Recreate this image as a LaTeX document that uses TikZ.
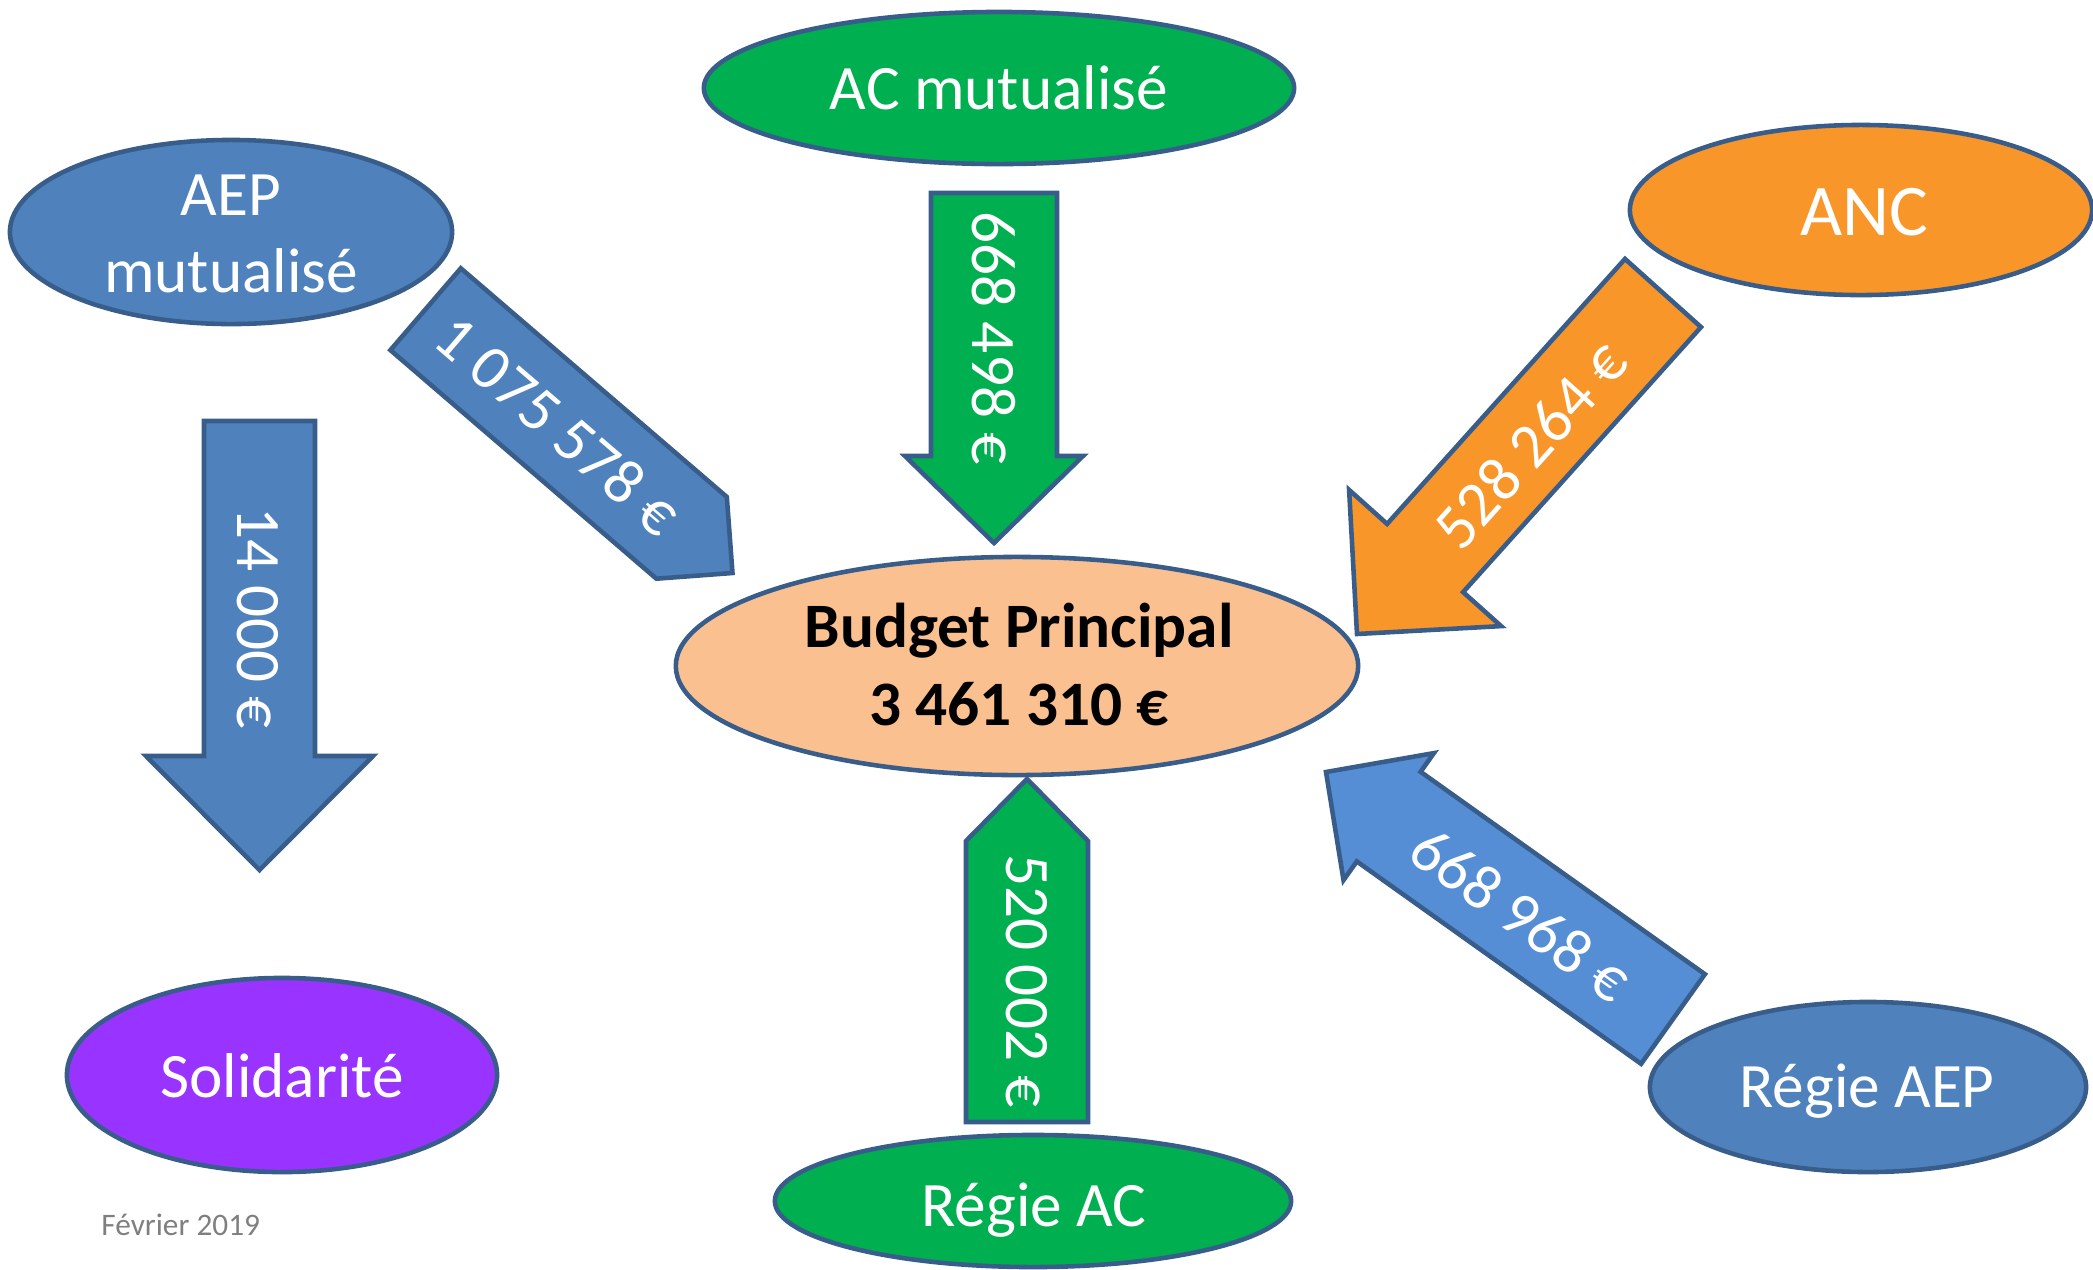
\documentclass[tikz,border=0pt]{standalone}
\usepackage{fontspec}
\setmainfont{Carlito}
\usetikzlibrary{shapes.geometric}
\definecolor{ppblue}{HTML}{4F81BD}
\definecolor{ppbluelight}{HTML}{558ED5}
\definecolor{ppgreen}{HTML}{00B050}
\definecolor{pporange}{HTML}{F9962A}
\definecolor{pppeach}{HTML}{FAC090}
\definecolor{pppurple}{HTML}{9933FF}
\definecolor{ppline}{HTML}{385D8A}
\definecolor{ppgray}{HTML}{7F7F7F}
\begin{document}
\begin{tikzpicture}[x=0.01cm,y=-0.01cm,
  blob/.style={ellipse, draw=ppline, line width=1.3pt, inner sep=0pt},
  blockarrow/.style={draw=ppline, line width=1.3pt, line join=miter},
  lbl/.style={text=white, font=\fontsize{18}{22}\selectfont, anchor=base, inner sep=0pt},
  num/.style={text=white, font=\fontsize{18}{22}\selectfont, inner sep=0pt},
]
\useasboundingbox (0,0) rectangle (2093,1269);

% ---------- block arrows ----------
% AC mutualise -> Budget (down)
\draw[blockarrow, fill=ppgreen] (931,193) -- (1057,193) -- (1057,456) -- (1083,456)
  -- (994,543) -- (905,456) -- (931,456) -- cycle;
% AEP mutualise -> Solidarite (down)
\draw[blockarrow, fill=ppblue] (204,421) -- (315,421) -- (315,756) -- (373,756)
  -- (259.5,870) -- (146,756) -- (204,756) -- cycle;
% Regie AC -> Budget (up, pentagon)
\draw[blockarrow, fill=ppgreen] (966,1122) -- (1088,1122) -- (1088,841) -- (1027,779)
  -- (966,841) -- cycle;
% AEP mutualise -> Budget (pentagon, diagonal)
\draw[blockarrow, fill=ppblue] (460.8,268.3) -- (726.8,496.9) -- (732.5,573)
  -- (656.4,578.7) -- (390.4,350.1) -- cycle;
% ANC -> Budget
\draw[blockarrow, fill=pporange] (1625,258.9) -- (1701,327.1) -- (1463.1,592.1)
  -- (1501.1,626.1) -- (1357,634) -- (1349.1,489.9) -- (1387.1,523.9) -- cycle;
% Regie AEP -> Budget
\draw[blockarrow, fill=ppbluelight] (1704.9,974.2) -- (1420.6,771.8) -- (1433.9,753.1)
  -- (1326,772) -- (1343.5,880.1) -- (1356.8,861.4) -- (1641.1,1063.8) -- cycle;

% ---------- arrow values ----------
\node[num, rotate=-90] (v1) at (994,338) {668 498 €};
\node[num, rotate=-90] (v2) at (258,618) {14 000 €};
\node[num, rotate=-90] (v3) at (1027,981) {520 002 €};
\node[num, rotate=-40.7] (v4) at (558,425) {1 075 578 €};
\node[num, rotate=48.1] (v5) at (1530,445) {528 264 €};
\node[num, rotate=-35.4] (v6) at (1521,914) {668 968 €};

% ---------- ellipses ----------
\node[blob, fill=ppgreen, minimum width=5.9cm, minimum height=1.52cm] (acm) at (999,88) {};
\node[blob, fill=ppblue, minimum width=4.42cm, minimum height=1.84cm] (aepm) at (231,232) {};
\node[blob, fill=pporange, minimum width=4.62cm, minimum height=1.70cm] (anc) at (1861,210) {};
\node[blob, fill=pppeach, minimum width=6.82cm, minimum height=2.18cm] (bp) at (1017,666) {};
\node[blob, fill=pppurple, minimum width=4.30cm, minimum height=1.94cm] (sol) at (282,1075) {};
\node[blob, fill=ppgreen, minimum width=5.16cm, minimum height=1.32cm] (rac) at (1033,1201) {};
\node[blob, fill=ppblue, minimum width=4.36cm, minimum height=1.70cm] (raep) at (1868,1087) {};

% ---------- ellipse labels ----------
\node[lbl] (tacm) at (999,109) {AC mutualisé};
\node[lbl] (taep1) at (231,215) {AEP};
\node[lbl] (taep2) at (231,292) {mutualisé};
\node[lbl, font=\fontsize{20.7}{25}\selectfont] (tanc) at (1864,235) {ANC};
\node[lbl, text=black, font=\bfseries\fontsize{18}{22}\selectfont] (tbp1) at (1019,647) {Budget Principal};
\node[lbl, text=black, font=\bfseries\fontsize{18}{22}\selectfont] (tbp2) at (1019,725) {3 461 310 €};
\node[lbl] (tsol) at (282,1097) {Solidarité};
\node[lbl] (trac) at (1034,1226) {Régie AC};
\node[lbl] (traep) at (1867,1107) {Régie AEP};

% ---------- date ----------
\node[anchor=base west, inner sep=0pt, text=ppgray, font=\fontsize{8.9}{11}\selectfont] (date) at (100.7,1235) {Février 2019};
\end{tikzpicture}
\end{document}
